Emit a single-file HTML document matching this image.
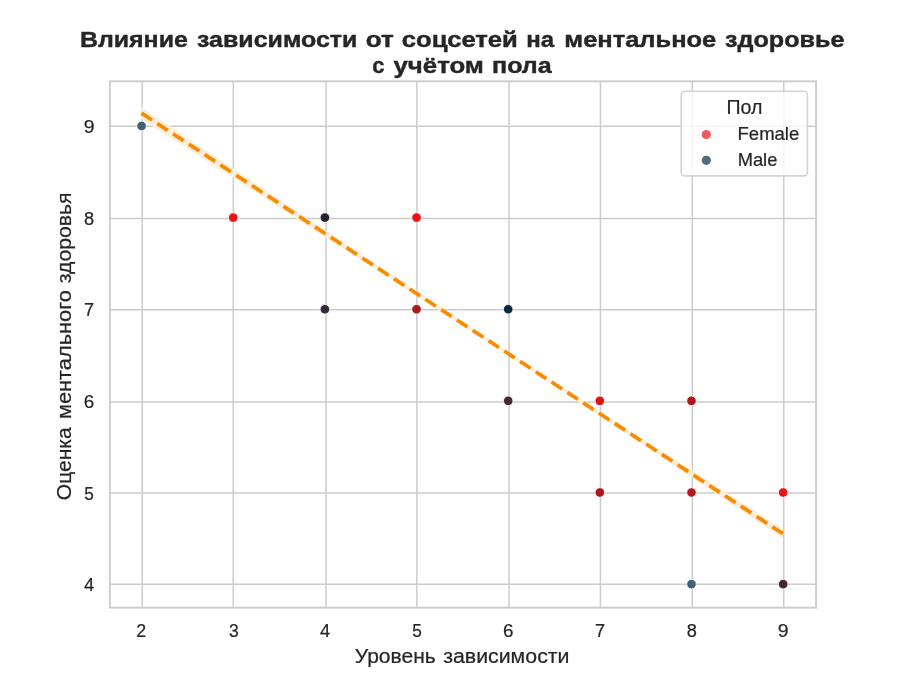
<!DOCTYPE html><html><head><meta charset="utf-8"><style>html,body{margin:0;padding:0;background:#fff;}svg{display:block;will-change:transform;filter:blur(0.3px);}text{font-family:"Liberation Sans",sans-serif;fill:#262626;}</style></head><body>
<svg width="900" height="697" viewBox="0 0 900 697">
<rect x="0" y="0" width="900" height="697" fill="#fff"/>
<line x1="142.20" y1="81.33" x2="142.20" y2="607.65" stroke="#cccccc" stroke-width="1.5"/>
<line x1="233.33" y1="81.33" x2="233.33" y2="607.65" stroke="#cccccc" stroke-width="1.5"/>
<line x1="326.05" y1="81.33" x2="326.05" y2="607.65" stroke="#cccccc" stroke-width="1.5"/>
<line x1="416.90" y1="81.33" x2="416.90" y2="607.65" stroke="#cccccc" stroke-width="1.5"/>
<line x1="509.04" y1="81.33" x2="509.04" y2="607.65" stroke="#cccccc" stroke-width="1.5"/>
<line x1="600.43" y1="81.33" x2="600.43" y2="607.65" stroke="#cccccc" stroke-width="1.5"/>
<line x1="692.30" y1="81.33" x2="692.30" y2="607.65" stroke="#cccccc" stroke-width="1.5"/>
<line x1="783.76" y1="81.33" x2="783.76" y2="607.65" stroke="#cccccc" stroke-width="1.5"/>
<line x1="109.90" y1="126.19" x2="816.05" y2="126.19" stroke="#cccccc" stroke-width="1.5"/>
<line x1="109.90" y1="218.62" x2="816.05" y2="218.62" stroke="#cccccc" stroke-width="1.5"/>
<line x1="109.90" y1="309.76" x2="816.05" y2="309.76" stroke="#cccccc" stroke-width="1.5"/>
<line x1="109.90" y1="402.05" x2="816.05" y2="402.05" stroke="#cccccc" stroke-width="1.5"/>
<line x1="109.90" y1="493.04" x2="816.05" y2="493.04" stroke="#cccccc" stroke-width="1.5"/>
<line x1="109.90" y1="584.33" x2="816.05" y2="584.33" stroke="#cccccc" stroke-width="1.5"/>
<polygon points="141.50,107.09 152.19,114.26 162.89,121.44 173.58,128.61 184.27,135.78 194.97,142.95 205.66,150.12 216.35,157.28 227.05,164.45 237.74,171.62 248.43,178.78 259.13,185.95 269.82,193.11 280.51,200.27 291.21,207.43 301.90,214.59 312.59,221.75 323.29,228.90 333.98,236.06 344.67,243.21 355.37,250.35 366.06,257.49 376.75,264.63 387.45,271.77 398.14,278.89 408.83,286.02 419.53,293.13 430.22,300.24 440.91,307.34 451.61,314.42 462.30,321.50 472.99,328.56 483.69,335.61 494.38,342.65 505.07,349.66 515.77,356.67 526.46,363.66 537.15,370.63 547.85,377.59 558.54,384.54 569.23,391.48 579.93,398.41 590.62,405.32 601.31,412.23 612.01,419.13 622.70,426.03 633.39,432.92 644.09,439.80 654.78,446.68 665.47,453.56 676.17,460.44 686.86,467.31 697.55,474.18 708.25,481.04 718.94,487.91 729.63,494.77 740.33,501.63 751.02,508.49 761.71,515.35 772.41,522.21 783.10,529.06 783.10,538.61 772.41,531.44 761.71,524.28 751.02,517.11 740.33,509.95 729.63,502.79 718.94,495.63 708.25,488.47 697.55,481.31 686.86,474.16 676.17,467.01 665.47,459.86 654.78,452.71 644.09,445.57 633.39,438.43 622.70,431.30 612.01,424.17 601.31,417.05 590.62,409.93 579.93,402.83 569.23,395.73 558.54,388.64 547.85,381.57 537.15,374.51 526.46,367.46 515.77,360.43 505.07,353.41 494.38,346.40 483.69,339.41 472.99,332.44 462.30,325.48 451.61,318.53 440.91,311.60 430.22,304.67 419.53,297.75 408.83,290.85 398.14,283.94 387.45,277.05 376.75,270.16 366.06,263.27 355.37,256.39 344.67,249.52 333.98,242.64 323.29,235.77 312.59,228.90 301.90,222.04 291.21,215.17 280.51,208.31 269.82,201.45 259.13,194.59 248.43,187.73 237.74,180.87 227.05,174.02 216.35,167.16 205.66,160.31 194.97,153.45 184.27,146.60 173.58,139.75 162.89,132.89 152.19,126.04 141.50,119.19" fill="#ffeed9"/>
<line x1="141.50" y1="113.14" x2="783.10" y2="533.84" stroke="#f88b00" stroke-width="3.7" stroke-dasharray="12.6 6.26"/>
<rect x="109.90" y="81.33" width="706.15" height="526.32" fill="none" stroke="#cccccc" stroke-width="1.9"/>
<circle cx="141.60" cy="125.99" r="4.75" fill="#426172" stroke="#fff" stroke-width="0.76"/>
<circle cx="233.25" cy="217.62" r="4.75" fill="#e81414" stroke="#fff" stroke-width="0.76"/>
<circle cx="324.90" cy="217.62" r="4.75" fill="#2e1f30" stroke="#fff" stroke-width="0.76"/>
<circle cx="324.90" cy="309.25" r="4.75" fill="#35293a" stroke="#fff" stroke-width="0.76"/>
<circle cx="416.55" cy="217.62" r="4.75" fill="#e81414" stroke="#fff" stroke-width="0.76"/>
<circle cx="416.55" cy="309.25" r="4.75" fill="#a81a20" stroke="#fff" stroke-width="0.76"/>
<circle cx="508.20" cy="309.25" r="4.75" fill="#022b42" stroke="#fff" stroke-width="0.76"/>
<circle cx="508.20" cy="400.87" r="4.75" fill="#472635" stroke="#fff" stroke-width="0.76"/>
<circle cx="599.85" cy="400.87" r="4.75" fill="#d61616" stroke="#fff" stroke-width="0.76"/>
<circle cx="599.85" cy="492.50" r="4.75" fill="#a81920" stroke="#fff" stroke-width="0.76"/>
<circle cx="691.51" cy="400.87" r="4.75" fill="#b5171c" stroke="#fff" stroke-width="0.76"/>
<circle cx="691.51" cy="492.50" r="4.75" fill="#b7181d" stroke="#fff" stroke-width="0.76"/>
<circle cx="691.51" cy="584.13" r="4.75" fill="#3f6275" stroke="#fff" stroke-width="0.76"/>
<circle cx="783.16" cy="492.50" r="4.75" fill="#e81414" stroke="#fff" stroke-width="0.76"/>
<circle cx="783.16" cy="584.13" r="4.75" fill="#402634" stroke="#fff" stroke-width="0.76"/>
<rect x="681.2" y="91.2" width="126.2" height="84.7" rx="3.6" ry="3.6" fill="#fff" fill-opacity="0.8" stroke="#d3d3d3" stroke-width="1.6"/>
<circle cx="706.3" cy="134.5" r="4.6" fill="#ee5a5e"/>
<circle cx="706.3" cy="160.3" r="4.6" fill="#4d6b7c"/>
<text x="79.94" y="46.85" font-size="22.9" font-weight="bold" stroke="#262626" stroke-width="0.42" textLength="107.86" lengthAdjust="spacingAndGlyphs">Влияние</text>
<text x="197.05" y="46.85" font-size="22.9" font-weight="bold" stroke="#262626" stroke-width="0.42" textLength="160.34" lengthAdjust="spacingAndGlyphs">зависимости</text>
<text x="365.84" y="46.85" font-size="22.9" font-weight="bold" stroke="#262626" stroke-width="0.42" textLength="28.05" lengthAdjust="spacingAndGlyphs">от</text>
<text x="401.87" y="46.85" font-size="22.9" font-weight="bold" stroke="#262626" stroke-width="0.42" textLength="115.97" lengthAdjust="spacingAndGlyphs">соцсетей</text>
<text x="526.21" y="46.85" font-size="22.9" font-weight="bold" stroke="#262626" stroke-width="0.42" textLength="27.87" lengthAdjust="spacingAndGlyphs">на</text>
<text x="564.38" y="46.85" font-size="22.9" font-weight="bold" stroke="#262626" stroke-width="0.42" textLength="151.91" lengthAdjust="spacingAndGlyphs">ментальное</text>
<text x="725.08" y="46.85" font-size="22.9" font-weight="bold" stroke="#262626" stroke-width="0.42" textLength="119.36" lengthAdjust="spacingAndGlyphs">здоровье</text>
<text x="372.28" y="73.10" font-size="22.9" font-weight="bold" stroke="#262626" stroke-width="0.42" textLength="12.18" lengthAdjust="spacingAndGlyphs">с</text>
<text x="393.50" y="73.10" font-size="22.9" font-weight="bold" stroke="#262626" stroke-width="0.42" textLength="90.42" lengthAdjust="spacingAndGlyphs">учётом</text>
<text x="492.06" y="73.10" font-size="22.9" font-weight="bold" stroke="#262626" stroke-width="0.42" textLength="59.58" lengthAdjust="spacingAndGlyphs">пола</text>
<text x="354.77" y="663.00" font-size="20.0" stroke="#262626" stroke-width="0.22" textLength="80.91" lengthAdjust="spacingAndGlyphs">Уровень</text>
<text x="443.16" y="663.00" font-size="20.0" stroke="#262626" stroke-width="0.22" textLength="126.34" lengthAdjust="spacingAndGlyphs">зависимости</text>
<text x="726.51" y="113.95" font-size="20.3" stroke="#262626" stroke-width="0.22" textLength="35.94" lengthAdjust="spacingAndGlyphs">Пол</text>
<text x="737.54" y="140.10" font-size="18.4" stroke="#262626" stroke-width="0.22" textLength="61.74" lengthAdjust="spacingAndGlyphs">Female</text>
<text x="737.66" y="166.40" font-size="18.4" stroke="#262626" stroke-width="0.22" textLength="39.66" lengthAdjust="spacingAndGlyphs">Male</text>
<text x="136.24" y="636.85" font-size="18.9" stroke="#262626" stroke-width="0.22" textLength="9.94" lengthAdjust="spacingAndGlyphs">2</text>
<text x="228.94" y="636.85" font-size="18.9" stroke="#262626" stroke-width="0.22" textLength="9.74" lengthAdjust="spacingAndGlyphs">3</text>
<text x="320.01" y="636.85" font-size="18.9" stroke="#262626" stroke-width="0.22" textLength="10.21" lengthAdjust="spacingAndGlyphs">4</text>
<text x="412.37" y="636.85" font-size="18.9" stroke="#262626" stroke-width="0.22" textLength="9.57" lengthAdjust="spacingAndGlyphs">5</text>
<text x="503.04" y="636.85" font-size="18.9" stroke="#262626" stroke-width="0.22" textLength="10.50" lengthAdjust="spacingAndGlyphs">6</text>
<text x="595.03" y="636.85" font-size="18.9" stroke="#262626" stroke-width="0.22" textLength="10.07" lengthAdjust="spacingAndGlyphs">7</text>
<text x="686.64" y="636.85" font-size="18.9" stroke="#262626" stroke-width="0.22" textLength="10.14" lengthAdjust="spacingAndGlyphs">8</text>
<text x="777.71" y="636.85" font-size="18.9" stroke="#262626" stroke-width="0.22" textLength="10.80" lengthAdjust="spacingAndGlyphs">9</text>
<text x="84.02" y="591.26" font-size="18.9" stroke="#262626" stroke-width="0.22" textLength="10.21" lengthAdjust="spacingAndGlyphs">4</text>
<text x="84.31" y="499.63" font-size="18.9" stroke="#262626" stroke-width="0.22" textLength="9.57" lengthAdjust="spacingAndGlyphs">5</text>
<text x="83.87" y="408.00" font-size="18.9" stroke="#262626" stroke-width="0.22" textLength="10.50" lengthAdjust="spacingAndGlyphs">6</text>
<text x="84.12" y="316.37" font-size="18.9" stroke="#262626" stroke-width="0.22" textLength="10.07" lengthAdjust="spacingAndGlyphs">7</text>
<text x="84.11" y="224.75" font-size="18.9" stroke="#262626" stroke-width="0.22" textLength="10.14" lengthAdjust="spacingAndGlyphs">8</text>
<text x="83.72" y="133.12" font-size="18.9" stroke="#262626" stroke-width="0.22" textLength="10.80" lengthAdjust="spacingAndGlyphs">9</text>
<text x="0" y="0" font-size="20.0" stroke="#262626" stroke-width="0.22" transform="translate(70.80,500.15) rotate(-90)" textLength="72.91" lengthAdjust="spacingAndGlyphs">Оценка</text>
<text x="0" y="0" font-size="20.0" stroke="#262626" stroke-width="0.22" transform="translate(70.80,419.09) rotate(-90)" textLength="128.94" lengthAdjust="spacingAndGlyphs">ментального</text>
<text x="0" y="0" font-size="20.0" stroke="#262626" stroke-width="0.22" transform="translate(70.80,283.16) rotate(-90)" textLength="90.65" lengthAdjust="spacingAndGlyphs">здоровья</text>
</svg></body></html>
